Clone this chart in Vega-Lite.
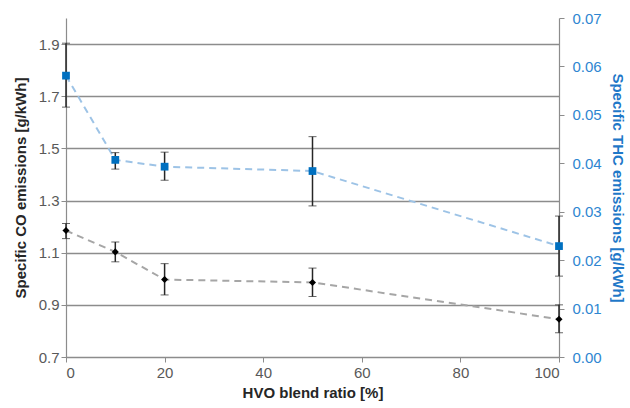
{
  "$schema": "https://vega.github.io/schema/vega-lite/v6.json",
  "width": 493,
  "height": 339,
  "autosize": "none",
  "padding": {"left": 66, "top": 18, "right": 71, "bottom": 51},
  "background": "white",
  "config": {
    "view": {"stroke": null},
    "font": "Liberation Sans",
    "axis": {
      "labelFont": "Liberation Sans",
      "titleFont": "Liberation Sans",
      "labelFontSize": 15,
      "titleFontSize": 15,
      "titleFontWeight": "bold",
      "labelColor": "#595959",
      "titleColor": "#262626",
      "domainColor": "#8c8c8c",
      "tickColor": "#8c8c8c",
      "gridColor": "#8c8c8c",
      "gridWidth": 1.5,
      "domainWidth": 1.2,
      "tickSize": 5
    }
  },
  "data": {
    "values": [
      {"x": 0, "co": 1.185, "co_lo": 1.154, "co_hi": 1.212, "thc": 0.0581, "thc_lo": 0.0516, "thc_hi": 0.0648},
      {"x": 10, "co": 1.103, "co_lo": 1.065, "co_hi": 1.141, "thc": 0.0407, "thc_lo": 0.0388, "thc_hi": 0.0422},
      {"x": 20, "co": 0.997, "co_lo": 0.938, "co_hi": 1.058, "thc": 0.0393, "thc_lo": 0.0365, "thc_hi": 0.0423},
      {"x": 50, "co": 0.986, "co_lo": 0.932, "co_hi": 1.041, "thc": 0.0384, "thc_lo": 0.0312, "thc_hi": 0.0455},
      {"x": 100, "co": 0.845, "co_lo": 0.793, "co_hi": 0.900, "thc": 0.0229, "thc_lo": 0.0167, "thc_hi": 0.0291}
    ]
  },
  "encoding": {
    "x": {
      "field": "x",
      "type": "quantitative",
      "scale": {"domain": [0, 100], "nice": false},
      "axis": {"title": "HVO blend ratio [%]", "values": [0, 20, 40, 60, 80, 100], "grid": false, "labelPadding": 3, "titlePadding": 5, "titleColor": "#262626"}
    }
  },
  "layer": [
    {
      "layer": [
        {
          "mark": {"type": "line", "color": "#a6a6a6", "strokeWidth": 2, "strokeDash": [7, 5]},
          "encoding": {
            "y": {"field": "co", "type": "quantitative", "scale": {"domain": [0.7, 2.0], "nice": false, "zero": false},
              "axis": {"title": "Specific CO emissions [g/kWh]", "values": [0.7, 0.9, 1.1, 1.3, 1.5, 1.7, 1.9], "format": ".1f", "grid": true, "orient": "left", "titlePadding": 10}}
          }
        },
        {
          "mark": {"type": "errorbar", "ticks": {"size": 8, "color": "#262626"}, "rule": {"color": "#262626", "strokeWidth": 1.5}},
          "encoding": {
            "y": {"field": "co_lo", "type": "quantitative", "title": "Specific CO emissions [g/kWh]"},
            "y2": {"field": "co_hi"}
          }
        },
        {
          "mark": {"type": "point", "shape": "diamond", "filled": true, "color": "black", "size": 50, "opacity": 1},
          "encoding": {
            "y": {"field": "co", "type": "quantitative", "title": "Specific CO emissions [g/kWh]"}
          }
        }
      ]
    },
    {
      "layer": [
        {
          "mark": {"type": "line", "color": "#9dc3e6", "strokeWidth": 2, "strokeDash": [7, 5]},
          "encoding": {
            "y": {"field": "thc", "type": "quantitative", "scale": {"domain": [0, 0.07], "nice": false},
              "axis": {"title": "Specific THC emissions [g/kWh]", "orient": "right", "values": [0, 0.01, 0.02, 0.03, 0.04, 0.05, 0.06, 0.07], "format": ".2f", "grid": false, "labelColor": "#2e86d1", "titleColor": "#1f78c8", "labelPadding": 8, "titlePadding": 8}}
          }
        },
        {
          "mark": {"type": "errorbar", "ticks": {"size": 8, "color": "#262626"}, "rule": {"color": "#262626", "strokeWidth": 1.5}},
          "encoding": {
            "y": {"field": "thc_lo", "type": "quantitative", "title": "Specific THC emissions [g/kWh]"},
            "y2": {"field": "thc_hi"}
          }
        },
        {
          "mark": {"type": "point", "shape": "square", "filled": true, "color": "#0070c0", "size": 60, "opacity": 1},
          "encoding": {
            "y": {"field": "thc", "type": "quantitative", "title": "Specific THC emissions [g/kWh]"}
          }
        }
      ]
    }
  ],
  "resolve": {"scale": {"y": "independent"}}
}
